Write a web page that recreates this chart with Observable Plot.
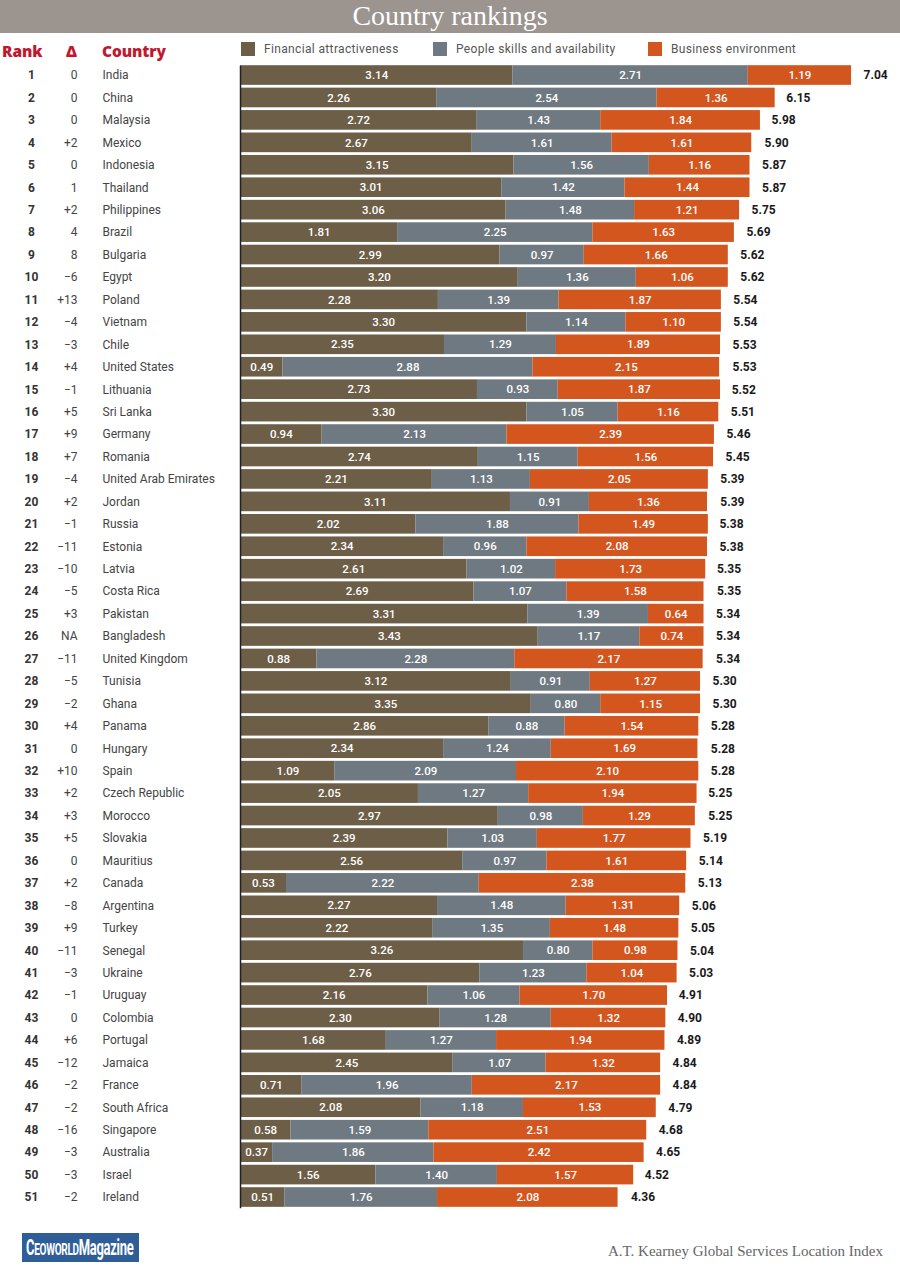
<!DOCTYPE html>
<html>
<head>
<meta charset="utf-8">
<script src="https://cdn.jsdelivr.net/npm/d3@7"></script>
<script src="https://cdn.jsdelivr.net/npm/@observablehq/plot@0.6"></script>
<style>
  html, body { margin: 0; padding: 0; background: #fff; }
  #page { position: relative; width: 900px; height: 1274px; overflow: hidden; font-family: Roboto, "Noto Sans", sans-serif; }
  #banner { position: absolute; left: 0; top: 0; width: 900px; height: 33px; background: #9c948e; color: #fff;
            font-family: "Liberation Serif", "DejaVu Serif", serif; font-size: 28px; line-height: 31px; text-align: center; }
  .hdr { position: absolute; top: 40px; color: #c0182f; font-weight: 900; font-size: 15.5px; font-family: "Open Sans", Roboto, sans-serif; letter-spacing: -0.1px; }
  .leg { position: absolute; top: 42px; height: 14px; display: flex; align-items: center; font-size: 12px; color: #555; letter-spacing: 0.35px; }
  .sw { width: 14px; height: 14px; margin-right: 9px; }
  #chart { position: absolute; left: 0; top: 40px; line-height: 0; }
  #chart svg { display: block; }
  #logo { position: absolute; left: 22px; top: 1233px; width: 117px; height: 29px; background: #2f5d98; overflow: hidden; }
  #logo span.inner { display: inline-block; color: #fff; font-family: Roboto, sans-serif; font-weight: bold; font-size: 22px;
          line-height: 29px; white-space: nowrap; transform: scaleX(0.59); transform-origin: 0 50%; margin-left: 4px; letter-spacing: -0.5px; }
  #source { position: absolute; right: 17px; top: 1243px; color: #666; font-family: "Liberation Serif", serif; font-size: 15px; }
</style>
</head>
<body>
<div id="page">
  <div id="banner">Country rankings</div>
  <div class="hdr" style="left:2px">Rank</div>
  <div class="hdr" style="left:66px">Δ</div>
  <div class="hdr" style="left:102px">Country</div>
  <div id="legend"></div>
  <div id="chart"></div>
  <div id="logo"><span class="inner">C<span style="font-size:17px">EOWORLD</span>Magazine</span></div>
  <div id="source">A.T. Kearney Global Services Location Index</div>
</div>
<script>
const ranks = d3.range(1, 52);
const deltas = ["0","0","0","+2","0","1","+2","4","8","−6","+13","−4","−3","+4","−1","+5","+9","+7","−4","+2","−1","−11",
  "−10","−5","+3","NA","−11","−5","−2","+4","0","+10","+2","+3","+5","0","+2","−8","+9","−11","−3","−1","0","+6","−12","−2","−2","−16","−3","−3","−2"];
const countries = ["India","China","Malaysia","Mexico","Indonesia","Thailand","Philippines","Brazil","Bulgaria","Egypt",
  "Poland","Vietnam","Chile","United States","Lithuania","Sri Lanka","Germany","Romania","United Arab Emirates","Jordan",
  "Russia","Estonia","Latvia","Costa Rica","Pakistan","Bangladesh","United Kingdom","Tunisia","Ghana","Panama",
  "Hungary","Spain","Czech Republic","Morocco","Slovakia","Mauritius","Canada","Argentina","Turkey","Senegal",
  "Ukraine","Uruguay","Colombia","Portugal","Jamaica","France","South Africa","Singapore","Australia","Israel","Ireland"];
const financial = [3.14,2.26,2.72,2.67,3.15,3.01,3.06,1.81,2.99,3.20,2.28,3.30,2.35,0.49,2.73,3.30,0.94,2.74,2.21,3.11,
  2.02,2.34,2.61,2.69,3.31,3.43,0.88,3.12,3.35,2.86,2.34,1.09,2.05,2.97,2.39,2.56,0.53,2.27,2.22,3.26,
  2.76,2.16,2.30,1.68,2.45,0.71,2.08,0.58,0.37,1.56,0.51];
const people = [2.71,2.54,1.43,1.61,1.56,1.42,1.48,2.25,0.97,1.36,1.39,1.14,1.29,2.88,0.93,1.05,2.13,1.15,1.13,0.91,
  1.88,0.96,1.02,1.07,1.39,1.17,2.28,0.91,0.80,0.88,1.24,2.09,1.27,0.98,1.03,0.97,2.22,1.48,1.35,0.80,
  1.23,1.06,1.28,1.27,1.07,1.96,1.18,1.59,1.86,1.40,1.76];
const business = [1.19,1.36,1.84,1.61,1.16,1.44,1.21,1.63,1.66,1.06,1.87,1.10,1.89,2.15,1.87,1.16,2.39,1.56,2.05,1.36,
  1.49,2.08,1.73,1.58,0.64,0.74,2.17,1.27,1.15,1.54,1.69,2.10,1.94,1.29,1.77,1.61,2.38,1.31,1.48,0.98,
  1.04,1.70,1.32,1.94,1.32,2.17,1.53,2.51,2.42,1.57,2.08];
const totals = [7.04,6.15,5.98,5.90,5.87,5.87,5.75,5.69,5.62,5.62,5.54,5.54,5.53,5.53,5.52,5.51,5.46,5.45,5.39,5.39,
  5.38,5.38,5.35,5.35,5.34,5.34,5.34,5.30,5.30,5.28,5.28,5.28,5.25,5.25,5.19,5.14,5.13,5.06,5.05,5.04,
  5.03,4.91,4.90,4.89,4.84,4.84,4.79,4.68,4.65,4.52,4.36];
const seriesNames = ["Financial attractiveness", "People skills and availability", "Business environment"];
const seriesColors = ["#6d5e47", "#6f7981", "#d4561f"];

// legend (HTML, above the SVG)
const legendX = [241, 433, 648];
const legend = document.getElementById("legend");
seriesNames.forEach((s, i) => {
  const d = document.createElement("div");
  d.className = "leg";
  d.style.left = legendX[i] + "px";
  d.innerHTML = `<div class="sw" style="background:${seriesColors[i]}"></div><span>${s}</span>`;
  legend.appendChild(d);
});

// long table for the stacked bars
const values = [financial, people, business];
const long = [];
countries.forEach((c, i) => {
  seriesNames.forEach((s, j) => long.push({country: c, series: s, value: values[j][i]}));
});
const rows = countries.map((c, i) => ({country: c, rank: ranks[i], delta: deltas[i], total: totals[i]}));

const W = 900, H = 1180;
const step = 22.44;
const marginTop = 23.8, marginBottom = H - marginTop - 51 * step;
const pxPerUnit = 86.8;
const marginLeft = 240;
const xMax = 7.5;

const chart = Plot.plot({
  width: W,
  height: H,
  marginTop, marginBottom,
  marginLeft,
  marginRight: W - marginLeft - xMax * pxPerUnit,
  x: {domain: [0, xMax], axis: null},
  y: {domain: countries, axis: null, padding: 0, round: false},
  color: {domain: seriesNames, range: seriesColors},
  style: {fontFamily: "Roboto, 'Noto Sans', sans-serif"},
  marks: [
    Plot.barX(long, {x: "value", y: "country", fill: "series", order: seriesNames, insetTop: 1.4, insetBottom: 1.4}),
    Plot.text(long, Plot.stackX({x: "value", y: "country", z: "series", order: seriesNames,
      text: d => d.value.toFixed(2), fill: "white", fontSize: 11.5, fontWeight: 500})),
    Plot.text(rows, {x: "total", y: "country", text: d => d.total.toFixed(2), textAnchor: "start", dx: 12,
      fill: "#1a1a1a", fontWeight: "bold", fontSize: 12}),
    Plot.text(rows, {y: "country", frameAnchor: "left", dx: -209, textAnchor: "middle", text: d => String(d.rank),
      fill: "#333", fontWeight: "bold", fontSize: 12}),
    Plot.text(rows, {y: "country", frameAnchor: "left", dx: -163, textAnchor: "end", text: "delta",
      fill: "#444", fontSize: 12}),
    Plot.text(rows, {y: "country", frameAnchor: "left", dx: -138, textAnchor: "start", text: "country",
      fill: "#444", fontSize: 12, letterSpacing: "0.9px"}),
    Plot.ruleX([0], {stroke: "#222", strokeWidth: 1.5, insetTop: 2})
  ]
});
document.getElementById("chart").appendChild(chart);
</script>
</body>
</html>
